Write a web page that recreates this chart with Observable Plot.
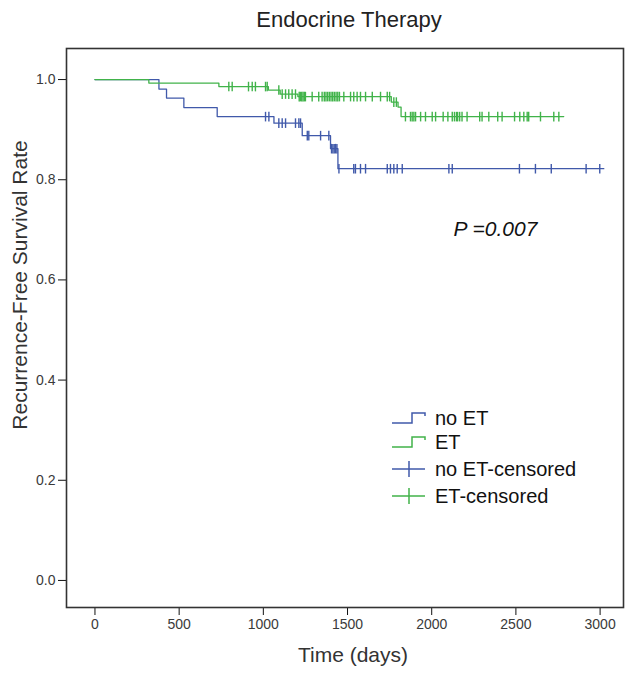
<!DOCTYPE html>
<html>
<head>
<meta charset="utf-8">
<script src="https://cdn.jsdelivr.net/npm/d3@7"></script>
<script src="https://cdn.jsdelivr.net/npm/@observablehq/plot@0.6"></script>
<style>
  body { margin: 0; background: #fff; font-family: "Liberation Sans", Arial, sans-serif; }
  #wrap { position: relative; width: 627px; height: 676px; overflow: hidden; }
  #title { position: absolute; top: 7px; left: 349px; transform: translateX(-50%); font-size: 22px; color: #222; white-space: nowrap; }
  #chart { position: absolute; top: 40px; left: 0; }
  #legend { position: absolute; top: 0; left: 0; }
</style>
</head>
<body>
<div id="wrap">
  <div id="title">Endocrine Therapy</div>
  <div id="chart"></div>
  <svg id="legend" width="627" height="676"></svg>
</div>
<script>
// ---- data ----
const xTicks = [0, 500, 1000, 1500, 2000, 2500, 3000];
const yTicks = [0, 0.2, 0.4, 0.6, 0.8, 1.0];

// no ET group: event times (days) and survival after each step; last entry = end of follow-up
const noEtTimes = [0, 380, 425, 528, 726, 1063, 1231, 1399, 1443, 3022];
const noEtSurv  = [1.0, 0.981, 0.963, 0.944, 0.926, 0.913, 0.888, 0.862, 0.822, 0.822];
const noEtCensored = [1013, 1033, 1092, 1112, 1132, 1191, 1211, 1221, 1261, 1270, 1340, 1389,
  1405, 1413, 1421, 1429, 1437, 1449, 1537, 1547, 1577, 1607, 1736, 1755, 1775, 1795, 1825,
  2102, 2122, 2521, 2616, 2710, 2917, 2998];

// ET group
const etTimes = [0, 320, 736, 1030, 1100, 1205, 1760, 1800, 1818, 2784];
const etSurv  = [1.0, 0.993, 0.986, 0.979, 0.971, 0.966, 0.955, 0.945, 0.926, 0.926];
const etCensored = [795, 815, 912, 934, 953, 1013, 1023, 1092, 1112, 1132, 1151, 1171, 1191,
  1213, 1220, 1228, 1236, 1244, 1250, 1290, 1329, 1349, 1362, 1372, 1382, 1392, 1402, 1412,
  1422, 1432, 1442, 1452, 1478, 1518, 1537, 1557, 1577, 1607, 1647, 1696, 1736, 1750, 1775,
  1790, 1844, 1874, 1884, 1894, 1904, 1934, 1963, 2003, 2023, 2068, 2096, 2122, 2135, 2147,
  2154, 2166, 2180, 2210, 2285, 2299, 2339, 2392, 2418, 2492, 2523, 2547, 2567, 2576, 2646,
  2725, 2755];

const groups = ["no ET", "ET"];
const colors = ["#4059aa", "#41b34a"];
const legendLabels = ["no ET", "ET", "no ET-censored", "ET-censored"];
const pLabel = "P =0.007";

// ---- build tables ----
function stepAt(times, surv, t) {
  let s = surv[0];
  for (let i = 0; i < times.length; i++) if (times[i] <= t) s = surv[i];
  return s;
}
const curves = [
  ...noEtTimes.map((t, i) => ({group: "no ET", time: t, surv: noEtSurv[i]})),
  ...etTimes.map((t, i) => ({group: "ET", time: t, surv: etSurv[i]}))
];
const censors = [
  ...noEtCensored.map(t => ({group: "no ET", time: t, surv: stepAt(noEtTimes, noEtSurv, t)})),
  ...etCensored.map(t => ({group: "ET", time: t, surv: stepAt(etTimes, etSurv, t)}))
];

const vbar = { draw(ctx, size) { const h = Math.sqrt(size / Math.PI); ctx.moveTo(0, -h); ctx.lineTo(0, h); } };
const font = "Liberation Sans, Arial, sans-serif";

const chart = Plot.plot({
  width: 627,
  height: 636,
  marginLeft: 66,
  marginRight: 4,
  marginTop: 8,
  marginBottom: 69,
  style: { fontFamily: font, background: "white", overflow: "visible" },
  x: { domain: [-169, 3139] },
  y: { domain: [-0.054, 1.062] },
  color: { domain: groups, range: colors },
  marks: [
    Plot.axisX({ ticks: xTicks, tickSize: 8, tickPadding: 4, fontSize: 14, fill: "#3a3a3a", stroke: "#111", tickFormat: d => String(d), label: null }),
    Plot.axisY({ ticks: yTicks, tickSize: 8, tickPadding: 3, fontSize: 14, fill: "#3a3a3a", stroke: "#111", tickFormat: d3.format(".1f"), label: null }),
    Plot.line(curves, { x: "time", y: "surv", z: "group", stroke: "group", curve: "step-after", strokeWidth: 1.3 }),
    Plot.dot(censors, { x: "time", y: "surv", stroke: "group", symbol: vbar, r: 4.8, fill: "none", strokeWidth: 1.4 }),
    Plot.frame({ stroke: "#333", strokeWidth: 1.6 }),
    Plot.text([pLabel], { text: d => d, frameAnchor: "top-left", dx: 387, dy: 173, textAnchor: "start", fontSize: 21, fontStyle: "italic", fill: "#111" }),
    Plot.text(["Time (days)"], { text: d => d, frameAnchor: "bottom", dx: 8, dy: 54, fontSize: 21, fill: "#333" }),
    Plot.text(["Recurrence-Free Survival Rate"], { text: d => d, frameAnchor: "left", textAnchor: "middle", dx: -46, dy: -43, rotate: -90, fontSize: 21, fill: "#333" })
  ]
});
document.getElementById("chart").appendChild(chart);

// ---- legend ----
const lg = d3.select("#legend");
const rowY = [418, 442, 469, 496];
legendLabels.forEach((label, i) => {
  const c = colors[i % 2];
  const y = rowY[i];
  const g = lg.append("g");
  if (i < 2) {
    g.append("path").attr("d", `M392,${y + 5}H412V${y - 5}H425V${y - 2}`)
      .attr("fill", "none").attr("stroke", c).attr("stroke-width", 1.5);
  } else {
    g.append("path").attr("d", `M392,${y}H425M409,${y - 8}V${y + 8}`)
      .attr("fill", "none").attr("stroke", c).attr("stroke-width", 1.5);
  }
  g.append("text").attr("x", 435).attr("y", y).attr("dy", "0.35em")
    .attr("font-family", font).attr("font-size", 20).attr("fill", "#111").text(label);
});
</script>
</body>
</html>
